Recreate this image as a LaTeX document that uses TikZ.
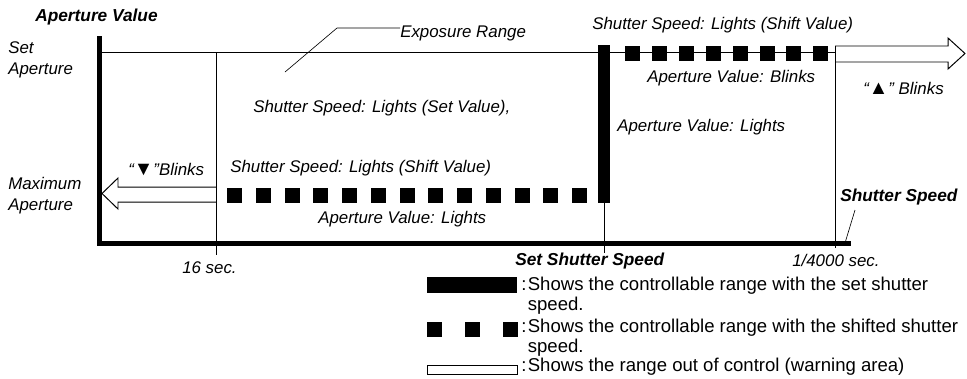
\documentclass[tikz,border=0pt]{standalone}
\usepackage{fontspec}
\setmainfont{Liberation Sans}
\usetikzlibrary{positioning}

\newcommand{\tri}[1]{{\fontsize{14}{14}\selectfont\upshape #1}}

\begin{document}
\begin{tikzpicture}[
            x=0.025cm, y=-0.025cm,
            lbl/.style={font=\fontsize{12}{14.9}\selectfont\itshape, inner sep=0pt, anchor=west},
            multi/.style={font=\fontsize{12}{14.9}\selectfont\itshape, inner sep=0pt,
                          anchor=north west, align=left},
            hdr/.style={font=\fontsize{12.3}{14}\selectfont\bfseries\itshape, inner sep=0pt, anchor=west},
            key/.style={font=\fontsize{13.2}{14.2}\selectfont, inner sep=0pt,
                        anchor=north west, align=left},
            axis/.style={line width=3.6pt, line join=miter},
            rule/.style={line width=0.7pt},
            lead/.style={line width=0.45pt},
            warn/.style={draw, line width=0.7pt, fill=white, line join=miter}
        ]
        \useasboundingbox (0,0) rectangle (967,378);

        % axis points
        \coordinate (top) at (99.5,36);
        \coordinate (org) at (99.5,243.5);
        \coordinate (xend) at (851,243.5);
        \coordinate (t16) at (216,52);
        \coordinate (tset) at (604,203);
        \coordinate (t4000) at (835,46);

        % Set aperture line
        \draw[rule] (101,52) -- (598,52);
        \draw[rule] (610,52) -- (835,52);

        % warning areas
        \draw[warn] (216,187) -- (118,187) -- (118,178) -- (102,193.5)
                    -- (118,209) -- (118,202) -- (216,202);
        \draw[warn] (835,46) -- (948,46) -- (948,38) -- (965,53.5)
                    -- (948,69) -- (948,62) -- (835,62);

        % verticals
        \draw[rule] (t16) -- (216,255);
        \draw[rule] (tset) -- (604,253);
        \draw[rule] (t4000) -- (835,248);

        % set shutter speed range
        \fill (598,45) rectangle (610,203);

        % shifted shutter speed ranges
        \foreach \i in {0,...,12}
            \fill (227+\i*28.75,188) rectangle +(15,15);
        \foreach \i in {0,...,7}
            \fill (625+\i*26.9,45.5) rectangle +(15,15);

        % axes
        \draw[axis] (top) -- (org) -- (xend);

        % labels
        \node[hdr] (apval) at (35,17) {Aperture Value};
        \node[multi] (setap) at (8,41) {Set\\Aperture};
        \node[multi] (maxap) at (8,177) {Maximum\\Aperture};
        \node[lbl] (exprange) at (400,33) {Exposure Range};
        \node[lbl] (ssset) at (253,108) {Shutter Speed: Lights (Set Value),};
        \node[lbl] (ssshift) at (230,168) {Shutter Speed: Lights (Shift Value)};
        \node[lbl] (avlight) at (318,219) {Aperture Value: Lights};
        \node[lbl] (dnblink) at (128,170) {“\tri{▼}”Blinks};
        \node[lbl] (topshift) at (592,25) {Shutter Speed: Lights (Shift Value)};
        \node[lbl] (avblink) at (647,78) {Aperture Value: Blinks};
        \node[lbl] (upblink) at (863,88) {“\tri{▲}” Blinks};
        \node[lbl] (avlight2) at (617,127) {Aperture Value: Lights};
        \node[hdr] (ssaxis) at (840,197) {Shutter Speed};
        \node[hdr] (setss) at (515,261) {Set Shutter Speed};
        \node[lbl] (sixteen) at (182,268) {16 sec.};
        \node[lbl] (fastest) at (792,260) {1/4000 sec.};

        % leaders
        \coordinate (expfoot) at (285,72);
        \coordinate (expknee) at (337,28);
        \draw[lead] (expfoot) -- (expknee) -- (expknee -| exprange.west);
        \coordinate (ssfoot) at (845,243);
        \coordinate (sshead) at (855,210);
        \draw[lead] (ssfoot) -- (sshead);

        % legend
        \fill (427,277) rectangle (517,293);
        \foreach \x in {427,465,503}
            \fill (\x,322) rectangle +(15,15);
        \draw[rule] (427,365) rectangle (517,374);
        \node[key] (keyset) at (521,277) {:\kern1pt Shows the controllable range with the set shutter\\\hphantom{:\kern1pt}speed.};
        \node[key] (keyshift) at (521,319) {:\kern1pt Shows the controllable range with the shifted shutter\\\hphantom{:\kern1pt}speed.};
        \node[key] (keywarn) at (521,358) {:\kern1pt Shows the range out of control (warning area)};
        \end{tikzpicture}
\end{document}
